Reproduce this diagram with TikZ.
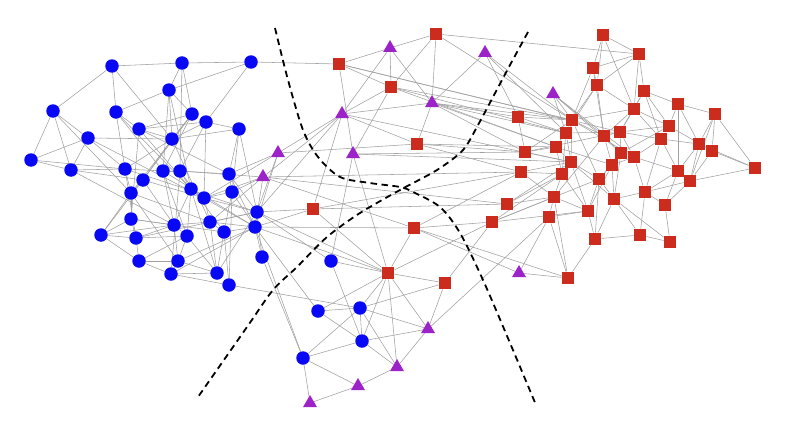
\documentclass[tikz,border=0pt]{standalone}
\usetikzlibrary{shapes.geometric,backgrounds}
\definecolor{nblue}{RGB}{8,8,245}
\definecolor{nred}{RGB}{204,44,30}
\definecolor{npurple}{RGB}{155,35,200}
\definecolor{edgegray}{RGB}{160,160,160}
\tikzset{
  bnode/.style={circle,fill=nblue,draw=none,inner sep=0pt,minimum size=13.5pt},
  snode/.style={rectangle,fill=nred,draw=none,inner sep=0pt,minimum size=12.5pt},
  tnode/.style={regular polygon,regular polygon sides=3,fill=npurple,draw=none,inner sep=0pt,minimum size=16pt},
  edge/.style={draw=edgegray,line width=0.55pt},
  cutline/.style={draw=black,line width=1.8pt,dash pattern=on 6.5pt off 4.5pt}
}
\begin{document}
\begin{tikzpicture}[x=1pt,y=-1pt]
\useasboundingbox (0,0) rectangle (802,436);
% blue nodes
\foreach \n/\x/\y in {b1/112/66,b2/182/63,b3/251/62,b4/169/90,b5/53/111,b6/116/112,b7/192/114,b8/206/122,b9/88/138,b10/139/129,b11/172/139,b12/239/129,b13/31/160,b14/71/170,b15/125/169,b16/163/171,b17/180/171,b18/143/180,b19/229/174,b20/191/189,b21/131/193,b22/204/198,b23/232/192,b24/257/212,b25/131/219,b26/174/225,b27/210/222,b28/255/227,b29/101/235,b30/136/238,b31/187/236,b32/224/232,b33/139/261,b34/178/261,b35/262/257,b36/171/274,b37/217/273,b38/229/285,b39/331/261,b40/318/311,b41/360/308,b42/362/341,b43/303/358}
  \node[bnode] (\n) at (\x,\y) {};
% purple triangles
\foreach \n/\x/\y in {t1/390/48,t2/485/53,t3/553/94,t4/432/103,t5/342/114,t6/278/153,t7/353/154,t8/263/177,t9/519/273,t10/428/329,t11/397/367,t12/358/386,t13/310/403}
  \node[tnode] (\n) at (\x,\y) {};
% red squares
\foreach \n/\x/\y in {s1/436/34,s2/339/64,s3/391/87,s4/518/117,s5/417/144,s6/525/152,s7/521/172,s8/313/209,s9/507/204,s10/492/222,s11/414/228,s12/388/273,s13/445/283,s14/603/35,s15/639/54,s16/593/68,s17/597/85,s18/644/91,s19/678/104,s20/715/114,s21/634/109,s22/572/120,s23/669/126,s24/566/133,s25/604/136,s26/620/132,s27/661/139,s28/699/144,s29/712/151,s30/556/147,s31/571/162,s32/621/153,s33/634/157,s34/612/165,s35/755/168,s36/562/174,s37/678/171,s38/690/181,s39/599/179,s40/645/192,s41/554/197,s42/614/199,s43/665/205,s44/588/211,s45/549/217,s46/595/239,s47/640/235,s48/670/242,s49/568/278}
  \node[snode] (\n) at (\x,\y) {};
\begin{pgfonlayer}{background}
% left cluster
\foreach \a/\b in {b1/b2,b2/b3,b1/b5,b1/b6,b1/b11,b2/b4,b2/b17,b3/b4,b3/b8,b4/b6,b4/b11,b4/b7,b4/b16,b4/b20,b5/b9,b5/b13,b5/b14,b5/b21,b9/b13,b9/b14,b9/b11,b9/b22,b9/b15,b13/b14,b13/b15,b14/b15,b14/b18,b14/b26,b6/b15,b6/b20,b6/b10,b7/b10,b7/b11,b7/b16,b7/b18,b7/b21,b8/b12,b8/b11,b8/b10,b8/b17,b8/b22,b10/b11,b10/b25,b10/b19,b11/b12,b11/b15,b11/b18,b11/b27,b12/b23,b12/b19,b15/b16,b15/b21,b15/b30,b15/b24,b16/b17,b16/b26,b16/b31,b16/b28,b17/b19,b17/b20,b17/b32,b17/b36,b18/b21,b18/b22,b18/b29,b19/b23,b19/b24,b19/b28,b20/b22,b20/b26,b20/b37,b21/b25,b21/b27,b21/b34,b22/b23,b22/b27,b22/b24,b22/b28,b23/b28,b23/b32,b23/b38,b24/b28,b24/b27,b24/b35,b25/b29,b25/b30,b25/b26,b25/b32,b26/b27,b26/b30,b26/b34,b26/b31,b27/b32,b27/b28,b27/b37,b28/b32,b28/b36,b29/b33,b29/b30,b29/b26,b30/b33,b30/b31,b31/b34,b31/b33,b31/b37,b32/b37,b32/b38,b33/b36,b33/b34,b34/b36,b34/b37,b34/b28,b36/b37,b35/b28,b36/b38,b37/b24,b12/b24,b21/b29,b18/b26,b20/b31,b30/b24,b2/b7,b6/b16,b10/b20}
  \draw[edge] (\a) -- (\b);
% left to middle
\foreach \a/\b in {t6/b19,t6/b24,t6/b28,t6/t5,t6/b22,t8/b22,t8/b23,t8/b28,t8/b17,t8/t5,t8/b27,t5/b24,b24/s8,b28/s8,b28/s11,b35/b43,b28/b43,b38/b41,b28/b40,b24/b39,b28/s12,b24/s12,b3/s2,t8/s9,t8/s11,t6/s5,t8/s7}
  \draw[edge] (\a) -- (\b);
% middle
\foreach \a/\b in {s2/t1,s2/t7,s2/s3,s2/s22,t1/s1,t1/s3,t1/t4,t1/t5,s1/s3,s1/t4,s1/s22,t2/s22,t2/s24,t2/t4,s3/t5,s3/s24,t4/t5,t4/s5,t4/s6,t4/s30,t4/s4,t5/s5,t7/s6,t7/s12,t7/s3,t7/b39,s5/s6,s5/s7,s4/s6,s6/s30,s6/s31,s7/s36,s7/s41,s8/s7,s8/t5,s8/s12,s11/s10,s11/s12,s12/s10,s12/s13,s12/b41,s12/b42,s12/b40,s12/t10,s12/t11,s12/b39,s13/s10,s13/t10,s13/b41,t10/s45,t9/s45,t9/s11,t10/b41,t10/b42,t11/b41,t11/b42,t11/t10,t11/t12,b42/b43,b41/b40,b41/b42,b40/b42,b43/b41,b43/t12,b43/t13,t12/t13,b39/b42,s9/s31,s9/s41,s9/s36,s10/s36,s10/s44,s10/s41,s10/s39,s4/s24,s4/s22,s6/s22,s6/s26,s7/s31,t3/s22,t3/s24,t3/s32,t3/s33,t3/s25,s3/s22,t4/s22,t5/s31,s5/s30,t7/s31,s11/s49,t9/s49,s1/s15,s2/s26,t2/s4,s8/s9,s3/s30,t4/s24,s11/s7}
  \draw[edge] (\a) -- (\b);
% right cluster
\foreach \a/\b in {s14/s15,s14/s16,s14/s21,s14/s17,s15/s16,s15/s18,s15/s21,s15/s17,s16/s17,s16/s22,s17/s22,s17/s24,s17/s21,s17/s25,s18/s19,s18/s21,s18/s23,s18/s27,s19/s20,s19/s23,s19/s28,s19/s37,s20/s28,s20/s29,s20/s35,s20/s38,s21/s22,s21/s26,s21/s25,s21/s23,s21/s27,s22/s24,s22/s25,s22/s30,s22/s31,s22/s33,s22/s39,s23/s27,s23/s26,s23/s32,s24/s30,s24/s26,s24/s31,s24/s36,s25/s26,s25/s32,s25/s34,s25/s41,s26/s32,s26/s33,s26/s27,s27/s28,s27/s33,s27/s37,s27/s40,s28/s29,s28/s38,s28/s35,s28/s37,s29/s35,s29/s38,s30/s31,s30/s36,s30/s34,s31/s36,s31/s42,s31/s39,s31/s44,s32/s33,s32/s34,s32/s39,s32/s42,s33/s34,s33/s40,s33/s37,s34/s39,s34/s42,s34/s44,s35/s38,s36/s41,s36/s44,s37/s38,s37/s43,s37/s40,s38/s40,s38/s43,s39/s42,s39/s44,s39/s46,s40/s42,s40/s43,s40/s47,s41/s45,s41/s44,s42/s46,s42/s47,s43/s48,s44/s46,s46/s47,s46/s49,s47/s48,s42/s48,s45/s44,s45/s49,s49/s41,s23/s29,s16/s25,s18/s26}
  \draw[edge] (\a) -- (\b);
% dashed separators
\draw[cutline] plot[smooth] coordinates {(275,28) (288,80) (303,130) (318,157) (340,177) (370,183) (400,187) (413,192) (440,207) (460,233) (483,280) (510,343) (536,405)};
\draw[cutline] plot[smooth] coordinates {(528,32) (510,65) (493,97) (478,125) (463,150) (437,170) (400,190) (360,213) (327,237) (297,267) (273,290) (247,327) (198,397)};
\end{pgfonlayer}
\end{tikzpicture}
\end{document}
